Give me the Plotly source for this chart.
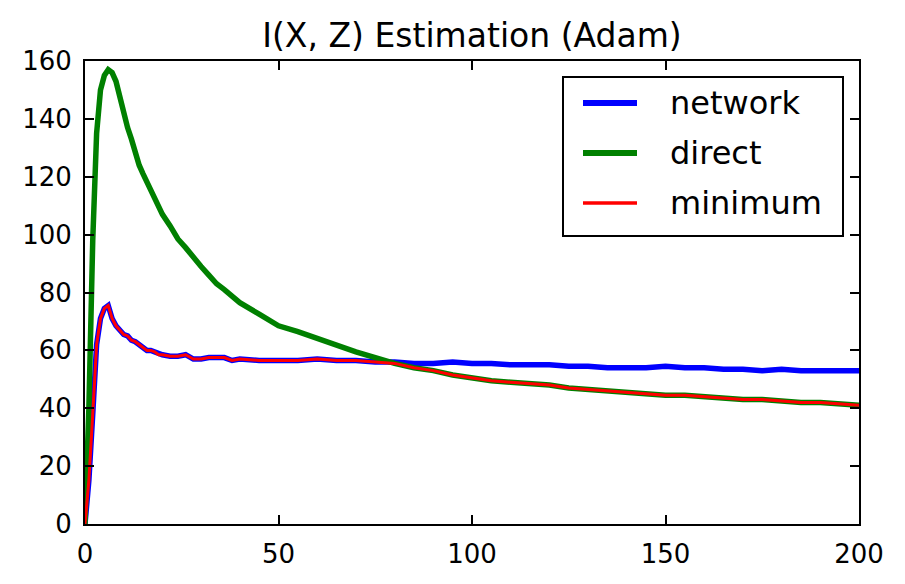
import plotly.graph_objects as go
import numpy as np

steps = [0,1,2,3,4,5,6,7,8,9,10,11,12,13,14,15,16,17,18,19,20,22,24,26,28,30,32,34,36,38,40,
         45,50,55,60,65,70,75,80,85,90,95,100,105,110,115,120,125,130,135,140,145,150,155,160,
         165,170,175,180,185,190,195,200]
direct = [0,40,98,135,150,155,157,156,153,147,142,137,133,128,124,121,118,115,112,109.5,107,
          103,98.5,95.5,92,89,86,83,81,78.5,76.5,
          72.5,68.5,66.5,64,61.5,59.5,57.5,55.5,54,53,51.5,50.5,49.5,49,48.5,48,47,46.5,46,45.5,45,44.5,
          44.5,44,43.5,43,43,42.5,42,42,41.5,41]
network = [0,15,38,62,71,74.5,75.5,71,68.5,67,65.5,65,63.5,63,62,61,60,60,59.5,58.5,58.5,
           58,58,58.5,57,57,57.5,57.5,57.5,56.5,57,
           56.5,56.5,56.5,57,56.5,56.5,56,56,55.5,55.5,56,55.5,55.5,55,55,55,54.5,54.5,54,54,54,
           54.5,54,54,53.5,53.5,53,53.5,53,53,53,53]
minimum = list(np.minimum(np.array(network), np.array(direct)))

series_names = ["network", "direct", "minimum"]
series_colors = ["#0000ff", "#008000", "#ff0000"]
series_widths = [5.5, 5.5, 3]

font = "DejaVu Sans"
fig = go.Figure()
for name, vals, col, w in zip(series_names, [network, direct, minimum], series_colors, series_widths):
    fig.add_trace(go.Scatter(x=steps, y=vals, mode="lines", name=name,
                             line=dict(color=col, width=w), showlegend=False))

# plot area in page px: x 85..859, y 61..524
def px2paper(px, py):
    return (px - 85) / 774, (524 - py) / 463

shapes = []
annotations = []
x0, y0 = px2paper(563, 77)
x1, y1 = px2paper(843, 236)
shapes.append(dict(type="rect", xref="paper", yref="paper", x0=x0, y0=y1, x1=x1, y1=y0,
                   line=dict(color="black", width=2), fillcolor="white", layer="above"))
for i, (name, col, w) in enumerate(zip(series_names, series_colors, series_widths)):
    py = 103 + 50 * i
    lx0, ly = px2paper(583, py)
    lx1, _ = px2paper(637, py)
    shapes.append(dict(type="line", xref="paper", yref="paper", x0=lx0, x1=lx1, y0=ly, y1=ly,
                       line=dict(color=col, width=w + 0.5), layer="above"))
    tx, _ = px2paper(668, py)
    annotations.append(dict(text=name, xref="paper", yref="paper", x=tx, y=ly,
                            xanchor="left", yanchor="middle", showarrow=False,
                            font=dict(family=font, size=32, color="black")))

axis_common = dict(showline=True, linecolor="black", linewidth=2, mirror="ticks",
                   ticks="inside", ticklen=9, tickwidth=1.5, tickcolor="black",
                   showgrid=False, zeroline=False,
                   tickfont=dict(family=font, size=26, color="black"))
fig.update_layout(
    width=905, height=584,
    margin=dict(l=77, r=54, t=53, b=68),
    paper_bgcolor="white", plot_bgcolor="white",
    title=dict(text="I(X, Z) Estimation (Adam)", xref="paper", x=0.5, xanchor="center",
               y=1 - 27/584, yanchor="middle",
               font=dict(family=font, size=33, color="black")),
    xaxis=dict(range=[0, 200], tickvals=[0, 50, 100, 150, 200], ticklabelstandoff=6, **axis_common),
    yaxis=dict(range=[0, 160], tickvals=[0, 20, 40, 60, 80, 100, 120, 140, 160], ticklabelstandoff=6, **axis_common),
    shapes=shapes,
    annotations=annotations,
    showlegend=False,
)
fig.write_html("out.html")
